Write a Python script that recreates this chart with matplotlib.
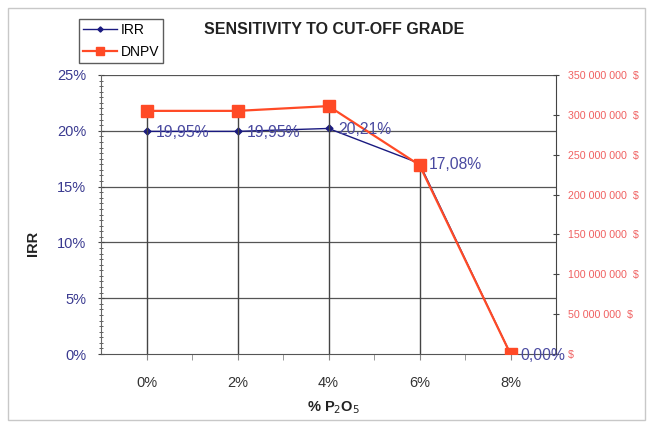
import matplotlib
matplotlib.use("Agg")
import matplotlib.pyplot as plt
from matplotlib.ticker import FuncFormatter, MultipleLocator
from matplotlib.patches import Rectangle

plt.rcParams['font.family'] = ['Liberation Sans', 'DejaVu Sans']

categories = ["0%", "2%", "4%", "6%", "8%"]
irr = [19.95, 19.95, 20.21, 17.08, 0.00]          # percent
dnpv = [305e6, 305e6, 311e6, 237e6, 0.0]          # $
irr_labels = ["19,95%", "19,95%", "20,21%", "17,08%", "0,00%"]

fig = plt.figure(figsize=(6.52, 4.28), dpi=100)
fig.patches.append(Rectangle((8/652, 1-420/428), 637/652, 412/428, transform=fig.transFigure,
                             fill=False, edgecolor="#c8c8c8", linewidth=1.0))

ax = fig.add_axes([101/652, 1-354/428, 455/652, 279/428])
ax2 = ax.twinx()

x = list(range(len(categories)))
ax.set_xlim(-0.5, len(categories) - 0.5)
ax.set_ylim(0, 25)
ax2.set_ylim(0, 350e6)

# gridlines
for v in range(5, 26, 5):
    ax.axhline(v, color="#555555", linewidth=0.9, zorder=1)

# drop lines
scale = 350e6 / 25
for xi, a, b in zip(x, irr, dnpv):
    top = max(a * scale, b)
    ax2.vlines(xi, 0, top, color="#444444", linewidth=1.0, zorder=1)

irr_color = "#1a1a80"
npv_color = "#ff4a26"
l1, = ax.plot(x, irr, color=irr_color, marker="D", markersize=3.5, linewidth=1.0, zorder=3, label="IRR")
l2, = ax2.plot(x, dnpv, color=npv_color, marker="s", markersize=8, linewidth=1.6, zorder=4, label="DNPV")

# IRR data labels (drawn on top axes, in IRR coordinates)
for xi, v, lab in zip(x, irr, irr_labels):
    ax2.annotate(lab, (xi, v), xycoords=ax.transData, xytext=(7, -1), textcoords="offset points",
                 color="#4a4aa0", fontsize=11.3, ha="left", va="center", zorder=6)

# axes styling
ax.set_xticks(x)
ax.set_xticklabels(categories, fontsize=10.5, color="#333333")
ax.set_xticks([i + 0.5 for i in x[:-1]], minor=True)
ax.tick_params(axis="x", which="both", length=4, color="#888888", pad=12, direction="out")
ax.yaxis.set_major_locator(MultipleLocator(5))
ax.yaxis.set_minor_locator(MultipleLocator(0.5))
ax.yaxis.set_major_formatter(FuncFormatter(lambda v, p: f"{v:.0f}%"))
ax.tick_params(axis="y", which="major", length=5, direction="inout", labelsize=10.5, labelcolor="#3a3a90", color="#444444", pad=8)
ax.tick_params(axis="y", which="minor", length=3, direction="inout", color="#444444")

ax2.yaxis.set_major_locator(MultipleLocator(50e6))
def money(v, p):
    if v == 0:
        return "$"
    return f"{int(v):,}".replace(",", " ") + "  $"
ax2.yaxis.set_major_formatter(FuncFormatter(money))
ax2.tick_params(axis="y", length=5, direction="inout", labelsize=7.7, labelcolor="#f06060", color="#444444", pad=6)

ax.spines["top"].set_visible(False)
ax2.spines["top"].set_visible(False)
ax.spines["right"].set_visible(False)
ax2.spines["left"].set_visible(False)
ax.spines["left"].set_color("#666666")
ax.spines["bottom"].set_color("#555555")
ax2.spines["right"].set_color("#444444")
ax2.spines["bottom"].set_visible(False)

fig.text(33/652, 1-243/428, "IRR", fontsize=10.5, fontweight="bold", color="#222222",
         rotation=90, ha="center", va="center")
fig.text(334/652, 1-408/428, "% P$_2$O$_5$", fontsize=10.5, fontweight="bold", color="#222222",
         ha="center", va="center")

fig.text(334/652, 1-30/428, "SENSITIVITY TO CUT-OFF GRADE", fontsize=11.5, fontweight="bold",
         color="#222222", ha="center", va="center")

leg = fig.legend(handles=[l1, l2], loc="upper left", bbox_to_anchor=(79/652, 1-19/428),
                 fontsize=10, frameon=True, fancybox=False, edgecolor="#333333",
                 handlelength=2.4, borderpad=0.3, labelspacing=0.55, handletextpad=0.3,
                 borderaxespad=0, markerscale=0.75)
leg.get_frame().set_linewidth(1.0)

fig.savefig("out.png", dpi=100)
